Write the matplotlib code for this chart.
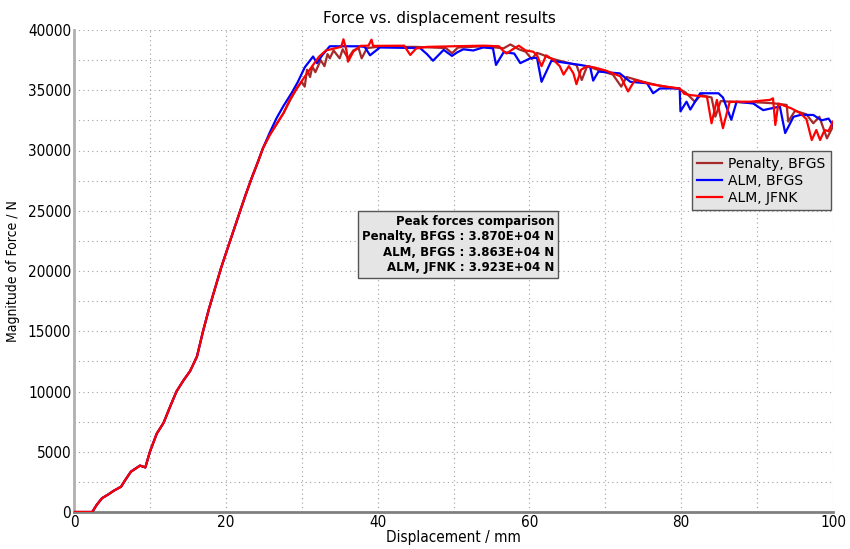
import matplotlib
matplotlib.use("Agg")
import matplotlib.pyplot as plt
from matplotlib import font_manager as fm
from matplotlib.ticker import MultipleLocator

# try to use the condensed DejaVu variant if it is installed
for f in fm.findSystemFonts():
    if "Condensed" in f and "DejaVu" in f:
        try:
            fm.fontManager.addfont(f)
        except Exception:
            pass
plt.rcParams["font.family"] = ["DejaVu Sans"]
plt.rcParams["font.stretch"] = "condensed"

# ---- data ----
rise_x = [0, 2.4, 3.0, 3.7, 4.5, 5.2, 6.2, 6.8, 7.5, 8.7, 9.4, 10.0, 10.9, 11.8, 12.7,
          13.5, 14.4, 15.3, 16.2, 17.0, 17.8, 18.6, 19.4, 20.3, 21.1, 21.9, 22.6, 23.4,
          24.2, 24.9]
rise_y = [0, 0, 600, 1150, 1450, 1750, 2100, 2700, 3350, 3850, 3700, 5000, 6500, 7400, 8800,
          10000, 10900, 11700, 12900, 15000, 16900, 18600, 20300, 22000, 23500, 25000, 26300,
          27700, 29000, 30200]

penalty_x = rise_x + [25.8, 26.7, 27.6, 28.5, 29.3, 30.0, 30.4, 30.7, 31.1, 31.4, 31.8, 32.5,
                      33.0, 33.4, 33.7, 34.2, 35.0, 35.4, 36.1, 36.8, 37.5, 37.9, 38.6, 40.0,
                      45.0, 49.0, 49.8, 50.6, 54.0, 56.6, 57.5, 58.6, 59.5, 60.3, 61.0, 61.8,
                      62.6, 63.6, 64.3, 65.5, 66.2, 66.9, 67.6, 69.0, 71.0, 72.1, 72.8, 75.0,
                      77.0, 79.8, 80.6, 81.8, 82.6, 84.0, 84.5, 85.2, 86.5, 88.0, 90.0, 92.1,
                      93.9, 94.1, 95.0, 96.5, 97.4, 98.2, 99.2, 100.0]
penalty_y = rise_y + [31300, 32200, 33100, 34200, 35100, 35700, 35300, 36700, 36100, 36960, 36500, 37500,
                      37000, 38000, 37650, 38300, 37650, 38400, 37650, 38300, 38500, 37650, 38500, 38600,
                      38600, 38500, 38070, 38550, 38650, 38480, 38800, 38400, 38200, 37600, 38100, 37930,
                      37700, 37510, 37400, 37200, 37100, 35850, 37000, 36700, 36300, 35300, 36100, 35700,
                      35400, 35100, 34800, 34050, 34600, 34400, 32810, 34100, 34050, 34000, 34000, 33920,
                      33780, 32400, 33300, 33000, 32260, 32800, 31010, 32000]

bfgs_x = rise_x + [25.8, 26.7, 27.6, 28.7, 29.5, 30.4, 31.5, 32.0, 32.7, 33.7, 37.5, 38.3, 39.0,
                   39.4, 40.3, 45.6, 46.5, 47.3, 48.0, 48.7, 49.8, 50.5, 51.3, 52.6, 53.9, 55.2,
                   55.6, 56.6, 58.0, 58.8, 60.1, 61.0, 61.6, 62.9, 64.5, 66.7, 68.0, 68.4, 69.1,
                   71.9, 73.3, 75.5, 76.3, 77.2, 79.8, 79.9, 80.7, 81.2, 82.5, 84.9, 85.5, 86.6,
                   87.3, 89.5, 90.8, 93.0, 93.7, 94.8, 95.7, 97.4, 98.5, 99.4, 100.0]
bfgs_y = rise_y + [31500, 32700, 33700, 34800, 35700, 36900, 37800, 37250, 37900, 38650, 38650, 38600, 37900,
                   38100, 38550, 38500, 38000, 37450, 37900, 38350, 37850, 38150, 38400, 38300, 38550, 38480,
                   37100, 38150, 38050, 37250, 37650, 37700, 35700, 37450, 37300, 37100, 36950, 35800, 36550,
                   36400, 35700, 35580, 34750, 35150, 35150, 33250, 34050, 33400, 34750, 34750, 34400, 32550,
                   34050, 33900, 33350, 33650, 31450, 32800, 32950, 32950, 32500, 32650, 32100]

jfnk_x = rise_x + [25.8, 26.7, 27.6, 28.5, 29.5, 30.7, 31.5, 32.3, 33.2, 34.5, 35.2, 35.5, 35.9,
                   36.1, 36.8, 37.7, 38.8, 39.2, 39.4, 43.5, 44.3, 45.1, 46.5, 50.0, 54.0, 56.0,
                   56.5, 57.0, 57.8, 58.6, 59.5, 60.5, 61.0, 61.6, 62.2, 63.2, 64.0, 64.5, 65.2,
                   65.8, 66.2, 66.8, 67.6, 68.5, 70.0, 72.0, 73.0, 73.9, 76.0, 78.0, 79.8, 80.4,
                   81.2, 83.4, 84.0, 84.7, 85.5, 86.4, 89.1, 91.7, 92.1, 92.4, 92.8, 94.5, 95.7,
                   96.5, 97.2, 97.8, 98.3, 98.9, 99.4, 100.0]
jfnk_y = rise_y + [31300, 32200, 33100, 34300, 35300, 36400, 37100, 37800, 38300, 38500, 38600, 39230, 38300,
                   37370, 38200, 38680, 38700, 39200, 38680, 38700, 37930, 38480, 38600, 38650, 38700, 38650,
                   38300, 38050, 38400, 38700, 38300, 38200, 37900, 37000, 37900, 37500, 37000, 36300, 37000,
                   36400, 35500, 36700, 37000, 36900, 36650, 36150, 34900, 35850, 35500, 35300, 35150, 34700,
                   34600, 34450, 32260, 34200, 31850, 34050, 34050, 34200, 34330, 32120, 33900, 33500, 33100,
                   32600, 30870, 31700, 30870, 31700, 31600, 32400]

series_labels = ["Penalty, BFGS", "ALM, BFGS", "ALM, JFNK"]
peak_values = ["3.870E+04", "3.863E+04", "3.923E+04"]

# ---- figure ----
fig = plt.figure(figsize=(8.5, 5.49), dpi=100)
ax = fig.add_axes([74/850, 1-512/549, 759/850, 482/549])

ax.plot(penalty_x, penalty_y, color="#a52a2a", lw=1.6, label=series_labels[0], zorder=3)
ax.plot(bfgs_x, bfgs_y, color="#0000ff", lw=1.6, label=series_labels[1], zorder=4)
ax.plot(jfnk_x, jfnk_y, color="#ff0000", lw=1.6, label=series_labels[2], zorder=5)

ax.set_xlim(0, 100)
ax.set_ylim(0, 40000)
ax.xaxis.set_major_locator(MultipleLocator(20))
ax.xaxis.set_minor_locator(MultipleLocator(10))
ax.yaxis.set_major_locator(MultipleLocator(5000))
ax.yaxis.set_minor_locator(MultipleLocator(2500))
ax.grid(which="both", color="#a0a0a0", linestyle=(0, (1, 3)), linewidth=0.8)
ax.set_axisbelow(True)
ax.tick_params(which="both", length=0, labelsize=11, pad=2)

for s in ["top", "right"]:
    ax.spines[s].set_visible(False)
ax.spines["left"].set_color("#b0b0b0")
ax.spines["left"].set_linewidth(2)
ax.spines["bottom"].set_color("#808080")
ax.spines["bottom"].set_linewidth(2)

ax.set_title("Force vs. displacement results", fontsize=11, fontstretch="normal", pad=5,
             x=0.482)
ax.set_xlabel("Displacement / mm", fontsize=11, labelpad=0)
ax.set_ylabel("Magnitude of Force / N", fontsize=10, labelpad=6)

leg = ax.legend(loc="upper right", bbox_to_anchor=(0.997, 0.748),
                prop={"family": "DejaVu Sans", "stretch": "normal", "size": 10},
                fancybox=False, framealpha=1, handlelength=1.8, handletextpad=0.4,
                borderpad=0.4, labelspacing=0.2, borderaxespad=0)
leg.get_frame().set_facecolor("#e5e5e5")
leg.get_frame().set_edgecolor("#555555")

lines = ["Peak forces comparison"] + [f"{l} : {v} N" for l, v in zip(series_labels, peak_values)]
ax.text(0.506, 0.555, "\n".join(lines), transform=ax.transAxes, ha="center", va="center",
        multialignment="right", fontsize=8.5, fontweight="bold", fontstretch="normal",
        linespacing=1.25,
        bbox=dict(boxstyle="square,pad=0.3", facecolor="#e5e5e5", edgecolor="#555555"),
        zorder=10)

fig.savefig("out.png", dpi=100)
